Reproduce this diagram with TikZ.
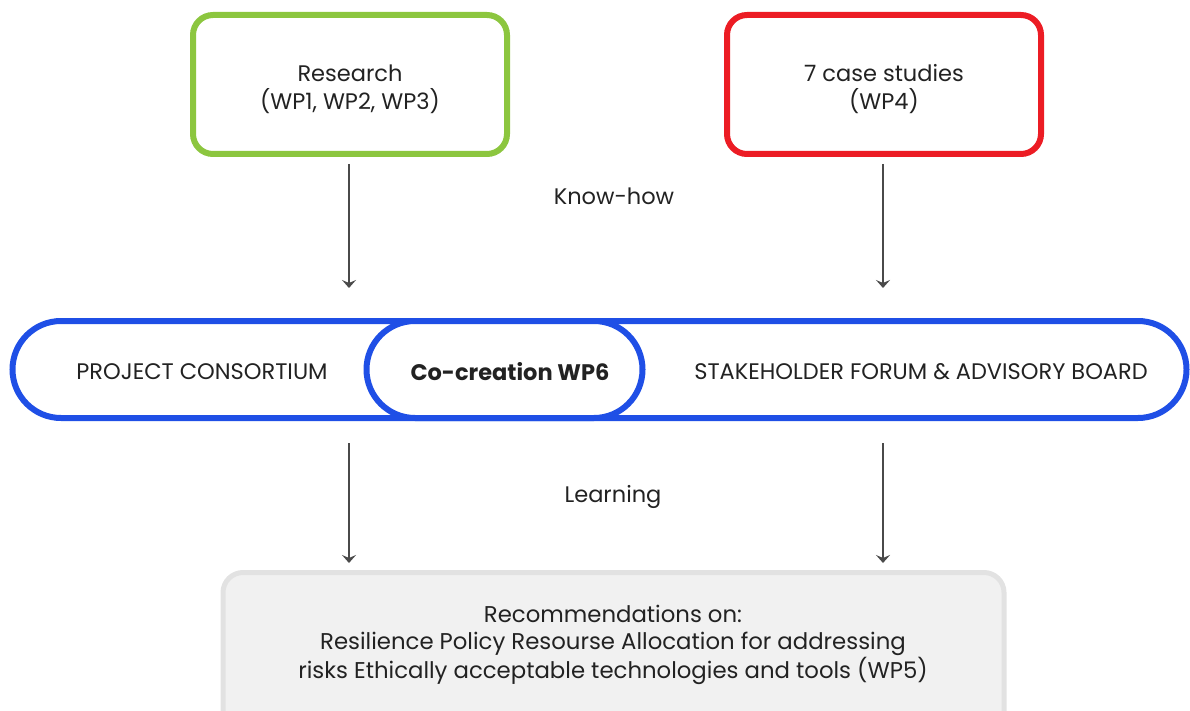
\documentclass[tikz,border=0pt]{standalone}
\usepackage{fontspec}
\setmainfont{Poppins}
\usetikzlibrary{arrows.meta}
\definecolor{leaf}{HTML}{8CC63F}
\definecolor{alert}{HTML}{EC1C24}
\definecolor{bandblue}{HTML}{1F4FE6}
\definecolor{ink}{HTML}{222222}
\definecolor{paper}{HTML}{F1F1F1}
\definecolor{paperedge}{HTML}{E2E2E2}
\definecolor{wire}{HTML}{4A4A4A}
\begin{document}
\begin{tikzpicture}[x=1pt,y=-1pt,
  every node/.style={text=ink, font=\fontsize{22.5}{28}\selectfont},
  topbox/.style={draw, line width=6pt, rounded corners=20pt, fill=white,
    minimum width=314pt, minimum height=139pt, inner sep=0pt},
  pill/.style={draw=bandblue, line width=6pt, rounded corners=48.5pt,
    minimum height=97pt, inner sep=0pt},
  label/.style={inner sep=0pt, anchor=center},
  flow/.style={draw=wire, line width=1.5pt,
    -{Stealth[length=8pt,width=14pt,inset=3pt]}}
]
\useasboundingbox (0,0) rectangle (1190,711);

% sources of know-how
\node[topbox, draw=leaf] (research) at (350,84.5) {};
\node[label, align=center] (researchtext) at (350,89) {Research\\(WP1, WP2, WP3)};
\node[topbox, draw=alert] (cases) at (884,84.5) {};
\node[label, align=center] (casestext) at (884,89) {7 case studies\\(WP4)};
\node[label] (knowhow) at (614,196) {Know-how};

% co-creation band
\node[pill, minimum width=1174pt] (band) at (599.5,369.5) {};
\node[pill, minimum width=276pt, fill=white] (cocreation) at (504.5,369.5) {};
\node[label] (consortium) at (202,372) {PROJECT CONSORTIUM};
\node[label, font=\fontsize{22.5}{28}\selectfont\bfseries] (wp6) at (510,372) {Co-creation WP6};
\node[label] (forum) at (921,372) {STAKEHOLDER FORUM \& ADVISORY BOARD};

\node[label] (learning) at (613,497) {Learning};

% recommendations box, running past the lower edge
\node[draw=paperedge, fill=paper, line width=5pt, rounded corners=20pt,
  minimum width=781pt, minimum height=170pt, inner sep=0pt] (recs) at (613.5,657.5) {};
\node[label, align=center, font=\fontsize{22.8}{27}\selectfont] (recstext) at (613,645)
  {Recommendations on:\\Resilience Policy Resourse Allocation for addressing\\risks Ethically acceptable technologies and tools (WP5)};

% connectors
\coordinate (lx) at (349,0);
\coordinate (rx) at (883,0);
\draw[flow, shorten <=7pt, shorten >=30pt] (lx |- research.south) -- (lx |- band.north);
\draw[flow, shorten <=7pt, shorten >=30pt] (rx |- cases.south) -- (rx |- band.north);
\draw[flow, shorten <=22pt, shorten >=7pt] (lx |- band.south) -- (lx |- recs.north);
\draw[flow, shorten <=22pt, shorten >=7pt] (rx |- band.south) -- (rx |- recs.north);
\end{tikzpicture}
\end{document}
